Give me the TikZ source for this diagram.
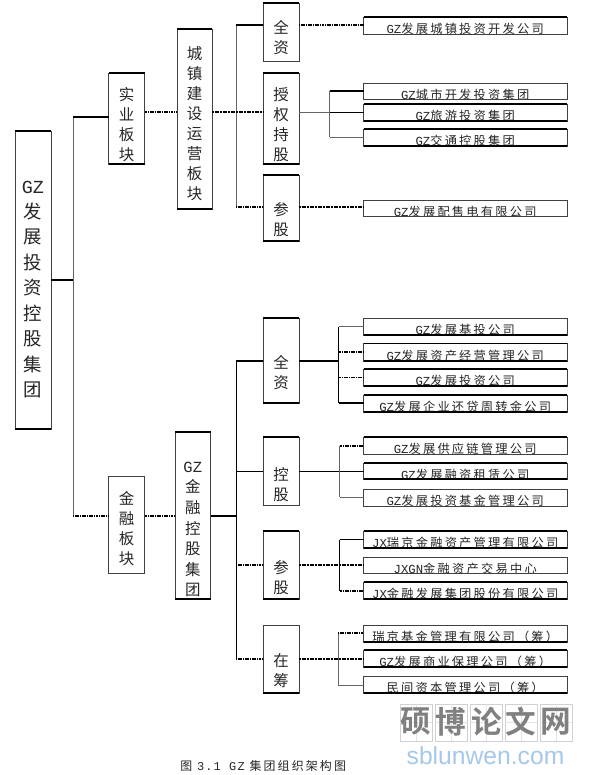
\documentclass[tikz,border=0pt]{standalone}
\usepackage{fontspec}
\setmainfont{Noto Sans CJK SC}
\newfontfamily\cofont[LetterSpace=18]{Noto Sans CJK SC}
\newfontfamily\latn{Liberation Mono}
\newfontfamily\latnsp[LetterSpace=10]{Liberation Mono}
\newfontfamily\wmfont[BoldFont={Noto Sans CJK SC Bold}]{Noto Sans CJK SC}
\newfontfamily\wmlatin{Liberation Sans}
\definecolor{wmblue}{RGB}{165,200,235}
\tikzset{
  x=0.75pt,y=-0.75pt,
  boxn/.style={draw=black!75,line width=0.55pt,inner sep=0pt,outer sep=0pt,fill=white},
  topedge/.style={append after command={(\tikzlastnode.north west) edge[draw=black,line width=1.3pt] (\tikzlastnode.north east)}},
  botedge/.style={append after command={(\tikzlastnode.south west) edge[draw=black,line width=1.3pt] (\tikzlastnode.south east)}},
  bothedge/.style={topedge,botedge},
  vtext/.style={align=center,inner sep=0pt,text=black!85,font=\fontsize{11.6}{15}\selectfont},
  roottext/.style={vtext,font=\fontsize{13.8}{19.1}\selectfont},
  jktext/.style={vtext,font=\fontsize{11.6}{15.4}\selectfont},
  cotext/.style={inner sep=0pt,text=black!85,font=\cofont\fontsize{9.2}{10}\selectfont},
  thinl/.style={draw=black!60,line width=0.7pt},
  blackl/.style={draw=black,line width=0.55pt},
  thickl/.style={draw=black,line width=1.2pt},
  dotl/.style={draw=black,line width=1.1pt,dash pattern=on 0.9pt off 0.4pt},
  dotb/.style={draw=black,line width=1.3pt,dash pattern=on 1.6pt off 0.4pt},
}
% [edge style]{name}{x1}{y1}{x2}{y2}{text centre y}{text style}; text in \boxtext
\newcommand\bx[8][]{%
  \pgfmathsetmacro\xc{(#3+#5)/2}\pgfmathsetmacro\yc{(#4+#6)/2}%
  \pgfmathsetlengthmacro\bw{(#5-#3)*0.75pt}\pgfmathsetlengthmacro\bh{(#6-#4)*0.75pt}%
  \pgfmathsetlengthmacro\dy{(\yc-(#7))*0.75pt}%
  \node[boxn,#1,minimum width=\bw,minimum height=\bh,
    path picture={\node[#8,name=#2t,yshift=\dy] at (path picture bounding box.center) {\boxtext};}]
    (#2) at (\xc,\yc) {};}
\newcommand\vb[8][]{\gdef\boxtext{#8}\bx[#1]{#2}{#3}{#4}{#5}{#6}{#7}{vtext}}
\newcommand\co[5][]{\gdef\boxtext{#5}\bx[#1]{#2}{363.5}{#3}{567}{#4}{#3+12}{cotext}}
\newcommand\GZ{{\latn GZ}}
\begin{document}
\begin{tikzpicture}
\useasboundingbox (0,0) rectangle (589,775);
\fill[white] (0,0) rectangle (589,775);
% level boxes
\gdef\boxtext{\GZ\\发\\展\\投\\资\\控\\股\\集\\团}
\bx[bothedge]{root}{15}{131}{51}{429}{289.5}{roottext}
\vb[bothedge]{shi}{108.5}{73}{144.5}{164}{125}{实\\业\\板\\块}
\vb{jin}{108.5}{476.5}{144.5}{573}{529}{金\\融\\板\\块}
\vb[bothedge]{cheng}{177}{29}{212}{209}{124}{城\\镇\\建\\设\\运\\营\\板\\块}
\gdef\boxtext{\GZ\\金\\融\\控\\股\\集\\团}
\bx[bothedge]{jinkong}{175}{432}{210.5}{599}{529.5}{jktext}
\vb[topedge]{qa}{263}{3}{299}{61}{38}{全\\资}
\vb[bothedge]{sq}{263}{73}{299}{164}{125}{授\\权\\持\\股}
\vb[bothedge]{ca}{263}{175}{299}{241}{220}{参\\股}
\vb[bothedge]{qb}{263}{318}{299}{403}{372.5}{全\\资}
\vb[topedge]{kg}{263}{437}{299}{505}{485}{控\\股}
\vb[bothedge]{cb}{263}{531}{299}{599}{577.5}{参\\股}
\vb[botedge]{zc}{263}{625}{299}{693}{671}{在\\筹}
% company boxes
\co[topedge]{c1}{17}{34}{\GZ 发展城镇投资开发公司}
\co{c2}{83}{99}{\GZ 城市开发投资集团}
\co[bothedge]{c3}{104}{121}{\GZ 旅游投资集团}
\co[bothedge]{c4}{129}{146}{\GZ 交通控股集团}
\co{c5}{200}{216}{\GZ 发展配售电有限公司}
\co[botedge]{d1}{318}{335}{\GZ 发展基投公司}
\co[bothedge]{d2}{343.5}{361}{\GZ 发展资产经营管理公司}
\co[bothedge]{d3}{369}{386}{\GZ 发展投资公司}
\co[bothedge]{d4}{395}{412}{\GZ 发展企业还贷周转金公司}
\co[topedge]{e1}{437}{454}{\GZ 发展供应链管理公司}
\co[bothedge]{e2}{463}{479}{\GZ 发展融资租赁公司}
\co{e3}{489}{506}{\GZ 发展投资基金管理公司}
\co[bothedge]{f1}{531}{548}{{\latn JX}瑞京金融资产管理有限公司}
\co{f2}{557}{573}{{\latn JXGN}金融资产交易中心}
\co[bothedge]{f3}{582}{599}{{\latn JX}金融发展集团股份有限公司}
\co[botedge]{g1}{625}{642}{瑞京基金管理有限公司（筹）}
\co[bothedge]{g2}{650}{667}{\GZ 发展商业保理公司（筹）}
\co[botedge]{g3}{676}{693}{民间资本管理公司（筹）}
% junction coordinates
\coordinate (tr0) at (73,280);
\coordinate (tr1) at (73,117);
\coordinate (tr2) at (73,516);
\coordinate (up) at (236,112);
\coordinate (up1) at (236,25);
\coordinate (up2) at (236,207);
\coordinate (sqj) at (329.5,112);
\coordinate (sq1) at (329.5,91);
\coordinate (sq2) at (329.5,137);
\coordinate (lo) at (236,516);
\coordinate (lo1) at (236,361);
\coordinate (lo2) at (236,471);
\coordinate (lo3) at (236,565);
\coordinate (lo4) at (236,659);
\coordinate (qbj) at (338.5,361);
\coordinate (qb1) at (338.5,326.5);
\coordinate (qb2) at (338.5,352);
\coordinate (qb3) at (338.5,377.5);
\coordinate (qb4) at (338.5,403);
\coordinate (kgj) at (339.5,471);
\coordinate (kg1) at (339.5,446);
\coordinate (kg3) at (339.5,497);
\coordinate (cbj) at (339.5,565);
\coordinate (cb1) at (339.5,539.5);
\coordinate (cb3) at (339.5,591);
\coordinate (zcj) at (338,659);
\coordinate (zc1) at (338,633);
\coordinate (zc3) at (338,685);
% connectors
\draw[thinl] (tr1) -- (tr2);
\draw[thickl] (root.east) -- (tr0);
\draw[thickl] (tr1) -- (tr1 -| shi.west);
\draw[dotl] (tr2) -- (tr2 -| jin.west);
\draw[dotl] (up -| shi.east) -- (up -| cheng.west);
\draw[dotl] (tr2 -| jin.east) -- (tr2 -| jinkong.west);
\draw[thinl] (up1) -- (up2);
\draw[dotb] (up -| cheng.east) -- (up);
\draw[dotb] (up) -- (up -| sq.west);
\draw[thickl] (up1) -- (up1 -| qa.west);
\draw[dotl] (up2) -- (up2 -| ca.west);
\draw[dotl] (up1 -| qa.east) -- (up1 -| c1.west);
\draw[thinl] (sqj -| sq.east) -- (sqj);
\draw[blackl] (sqj) -- (sqj -| c3.west);
\draw[thinl] (sq1) -- (sq2);
\draw[thickl] (sq1) -- (sq1 -| c2.west);
\draw[thinl] (sq2) -- (sq2 -| c4.west);
\draw[dotb] (up2 -| ca.east) -- (up2 -| c5.west);
\draw[blackl] (lo1) -- (lo4);
\draw[thickl] (lo -| jinkong.east) -- (lo);
\draw[thickl] (lo1) -- (lo1 -| qb.west);
\draw[blackl] (lo2) -- (lo2 -| kg.west);
\draw[dotl] (lo3) -- (lo3 -| cb.west);
\draw[dotl] (lo4) -- (lo4 -| zc.west);
\draw[thickl] (qbj -| qb.east) -- (qbj);
\draw[blackl] (qb1) -- (qb4);
\draw[thinl] (qb1) -- (qb1 -| d1.west);
\draw[dotl] (qb2) -- (qb2 -| d2.west);
\draw[dotl] (qb3) -- (qb3 -| d3.west);
\draw[thickl] (qb4) -- (qb4 -| d4.west);
\draw[blackl] (kgj -| kg.east) -- (kgj -| e2.west);
\draw[thinl] (kg1) -- (kg3);
\draw[dotl] (kg1) -- (kg1 -| e1.west);
\draw[thinl] (kg3) -- (kg3 -| e3.west);
\draw[dotb] (cbj -| cb.east) -- (cbj -| f2.west);
\draw[blackl] (cb1) -- (cb3);
\draw[blackl] (cb1) -- (cb1 -| f1.west);
\draw[dotl] (cb3) -- (cb3 -| f3.west);
\draw[dotb] (zcj -| zc.east) -- (zcj -| g2.west);
\draw[thinl] (zc1) -- (zc3);
\draw[dotl] (zc1) -- (zc1 -| g1.west);
\draw[thinl] (zc3) -- (zc3 -| g3.west);
% caption
\node[anchor=west,inner sep=0pt,text=black!85,font=\cofont\fontsize{8.95}{10}\selectfont] (cap) at (180,765.5) {图 {\latnsp 3.1 GZ} 集团组织架构图};
% watermark
\foreach \wx/\wc/\wn in {400/硕/wa,435/博/wb,470.5/论/wc,505/文/wd,540/网/we}{
  \draw[black!18,line width=0.5pt] (\wx,704) rectangle ++(32,37);
  \draw[black!10,line width=0.4pt] (\wx+16,704) -- ++(0,37) (\wx,722.5) -- ++(32,0);
  \node[inner sep=0pt,text=black!50,font=\wmfont\bfseries\fontsize{23}{24}\selectfont] (\wn) at (\wx+16,722) {\wc};
}
\node[inner sep=0pt,text=wmblue,font=\wmlatin\fontsize{18.5}{20}\selectfont] (wl) at (485.5,756) {sblunwen.com};
\end{tikzpicture}
\end{document}
